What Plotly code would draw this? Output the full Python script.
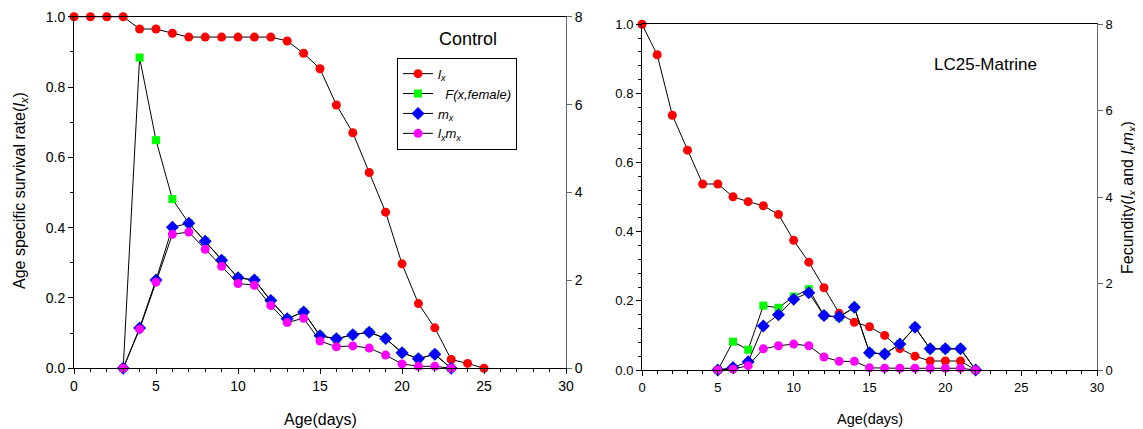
import plotly.graph_objects as go

# ---------------- data ----------------
ages_c = list(range(0, 26))
lx_c = [1.0, 1.0, 1.0, 1.0, 0.965, 0.965, 0.953, 0.942, 0.942, 0.942, 0.942, 0.942, 0.942,
        0.931, 0.896, 0.852, 0.749, 0.670, 0.557, 0.444, 0.297, 0.184, 0.115, 0.025, 0.014, 0.0]
ages_cf = list(range(3, 24))
F_c = [0.0, 7.07, 5.19, 3.85, 3.30, 2.89, 2.46, 2.06, 2.01, 1.54, 1.13, 1.28, 0.74, 0.67,
       0.765, 0.82, 0.68, 0.355, 0.22, 0.32, 0.0]
mx_c = [0.0, 0.917, 2.01, 3.21, 3.30, 2.89, 2.46, 2.06, 2.01, 1.54, 1.13, 1.28, 0.74, 0.67,
        0.765, 0.82, 0.68, 0.355, 0.22, 0.32, 0.0]
lxmx_c = [0.0, 0.89, 1.96, 3.05, 3.10, 2.71, 2.32, 1.93, 1.89, 1.43, 1.04, 1.14, 0.62, 0.49,
          0.51, 0.46, 0.30, 0.10, 0.045, 0.045, 0.0]

ages_t = list(range(0, 23))
lx_t = [1.0, 0.912, 0.737, 0.636, 0.538, 0.538, 0.501, 0.487, 0.475, 0.450, 0.375, 0.312,
        0.238, 0.164, 0.138, 0.125, 0.100, 0.062, 0.040, 0.026, 0.026, 0.026, 0.0]
ages_tf = list(range(5, 23))
F_t = [0.0, 0.655, 0.47, 1.49, 1.44, 1.70, 1.87, 1.26, 1.22, 1.45, 0.40, 0.37, 0.60, 0.99,
       0.49, 0.49, 0.49, 0.0]
mx_t = [0.0, 0.06, 0.19, 1.02, 1.28, 1.64, 1.79, 1.26, 1.23, 1.45, 0.40, 0.37, 0.60, 0.99,
        0.49, 0.49, 0.49, 0.0]
lxmx_t = [0.0, 0.02, 0.10, 0.49, 0.56, 0.60, 0.56, 0.30, 0.20, 0.20, 0.05, 0.04, 0.04, 0.04,
          0.04, 0.04, 0.04, 0.0]

x_ticks = [0, 5, 10, 15, 20, 25, 30]
names = ["<i>l<sub>x</sub></i>", "  <i>F(x,female)</i>", "<i>m<sub>x</sub></i>",
         "<i>l<sub>x</sub>m<sub>x</sub></i>"]
titles = ["Control", "LC25-Matrine"]
x_title = "Age(days)"
y_title_left = "Age specific survival rate(<i>l<sub>x</sub></i>)"
y_title_right = "Fecundity(<i>l<sub>x</sub></i> and <i>l<sub>x</sub>m<sub>x</sub></i>)"

FONT = "Liberation Sans, Arial, sans-serif"
LINE = dict(color="black", width=1)
W, H = 1135, 421   # page body adds an 8px offset

fig = go.Figure()


def add_set(ages, lx, agesf, F, mx, lxmx, xa, ya, ya2, show):
    fig.add_trace(go.Scatter(x=ages, y=lx, xaxis=xa, yaxis=ya, mode="lines+markers",
                             line=LINE, marker=dict(symbol="circle", size=9, color="#ff0000"),
                             name=names[0], showlegend=show, cliponaxis=False))
    fig.add_trace(go.Scatter(x=agesf, y=F, xaxis=xa, yaxis=ya2, mode="lines+markers",
                             line=LINE, marker=dict(symbol="square", size=8, color="#00ff00"),
                             name=names[1], showlegend=show, cliponaxis=False))
    fig.add_trace(go.Scatter(x=agesf, y=mx, xaxis=xa, yaxis=ya2, mode="lines+markers",
                             line=LINE, marker=dict(symbol="diamond", size=10, color="#0000ff"),
                             name=names[2], showlegend=show, cliponaxis=False))
    fig.add_trace(go.Scatter(x=agesf, y=lxmx, xaxis=xa, yaxis=ya2, mode="lines+markers",
                             line=LINE, marker=dict(symbol="circle", size=9, color="#ff00ff"),
                             name=names[3], showlegend=show, cliponaxis=False))


add_set(ages_c, lx_c, ages_cf, F_c, mx_c, lxmx_c, "x", "y", "y2", True)
add_set(ages_t, lx_t, ages_tf, F_t, mx_t, lxmx_t, "x2", "y3", "y4", False)


def px_x(p):
    return (p - 8) / W


def px_y(p):
    return 1 - (p - 8) / H


def xax(domain, anchor, fs):
    return dict(domain=domain, anchor=anchor, range=[0, 30], tickvals=x_ticks, ticks="outside",
                ticklen=5, tickcolor="black", showline=True, linecolor="black", linewidth=1,
                mirror=True, showgrid=False, zeroline=False, automargin=False,
                tickfont=dict(family=FONT, size=fs, color="black"),
                minor=dict(dtick=1, ticks="outside", ticklen=3, tickcolor="black"))


def yax(domain, anchor, fs, minor):
    return dict(domain=domain, anchor=anchor, range=[0, 1], dtick=0.2, tickformat=".1f",
                ticks="outside", ticklen=5, tickcolor="black", showline=True, linecolor="black",
                showgrid=False, zeroline=False, automargin=False,
                tickfont=dict(family=FONT, size=fs, color="black"),
                minor=dict(dtick=minor, ticks="outside", ticklen=3, tickcolor="black"))


def yax2(over, anchor, fs):
    return dict(overlaying=over, side="right", anchor=anchor, range=[0, 8], dtick=2,
                ticks="outside", ticklen=5, tickcolor="#666", showline=True, linecolor="#666",
                showgrid=False, zeroline=False, automargin=False,
                tickfont=dict(family=FONT, size=fs, color="black"))


fig.update_layout(
    width=W, height=H,
    margin=dict(l=0, r=0, t=0, b=0, autoexpand=False),
    paper_bgcolor="white", plot_bgcolor="white",
    font=dict(family=FONT, size=12, color="black"),
    xaxis=xax([px_x(74), px_x(566)], "y", 14),
    yaxis=yax([px_y(368.3), px_y(16.7)], "x", 14, 0.1),
    yaxis2=yax2("y", "x", 14),
    xaxis2=xax([px_x(642), px_x(1097)], "y3", 13),
    yaxis3=yax([px_y(370), px_y(24.3)], "x2", 13, 0.04),
    yaxis4=yax2("y3", "x2", 13),
    legend=dict(x=px_x(397), y=px_y(57.7), xanchor="left", yanchor="top", bgcolor="white",
                bordercolor="black", borderwidth=1, font=dict(family=FONT, size=13),
                tracegroupgap=0, itemwidth=30),
    annotations=[
        dict(text=titles[0], x=px_x(468), y=px_y(38.5), xref="paper", yref="paper",
             showarrow=False, xanchor="center", yanchor="middle",
             font=dict(family=FONT, size=18)),
        dict(text=titles[1], x=px_x(985.5), y=px_y(64), xref="paper", yref="paper",
             showarrow=False, xanchor="center", yanchor="middle",
             font=dict(family=FONT, size=17)),
        dict(text=x_title, x=px_x(320), y=px_y(419), xref="paper", yref="paper",
             showarrow=False, xanchor="center", yanchor="middle",
             font=dict(family=FONT, size=16)),
        dict(text=x_title, x=px_x(870), y=px_y(419), xref="paper", yref="paper",
             showarrow=False, xanchor="center", yanchor="middle",
             font=dict(family=FONT, size=14.5)),
        dict(text=y_title_left, x=px_x(20.5), y=px_y(190.5), xref="paper", yref="paper",
             showarrow=False, xanchor="center", yanchor="middle", textangle=-90,
             font=dict(family=FONT, size=16)),
        dict(text=y_title_right, x=px_x(1129), y=px_y(198), xref="paper", yref="paper",
             showarrow=False, xanchor="center", yanchor="middle", textangle=-90,
             font=dict(family=FONT, size=16)),
    ],
)

fig.write_html("out.html")
